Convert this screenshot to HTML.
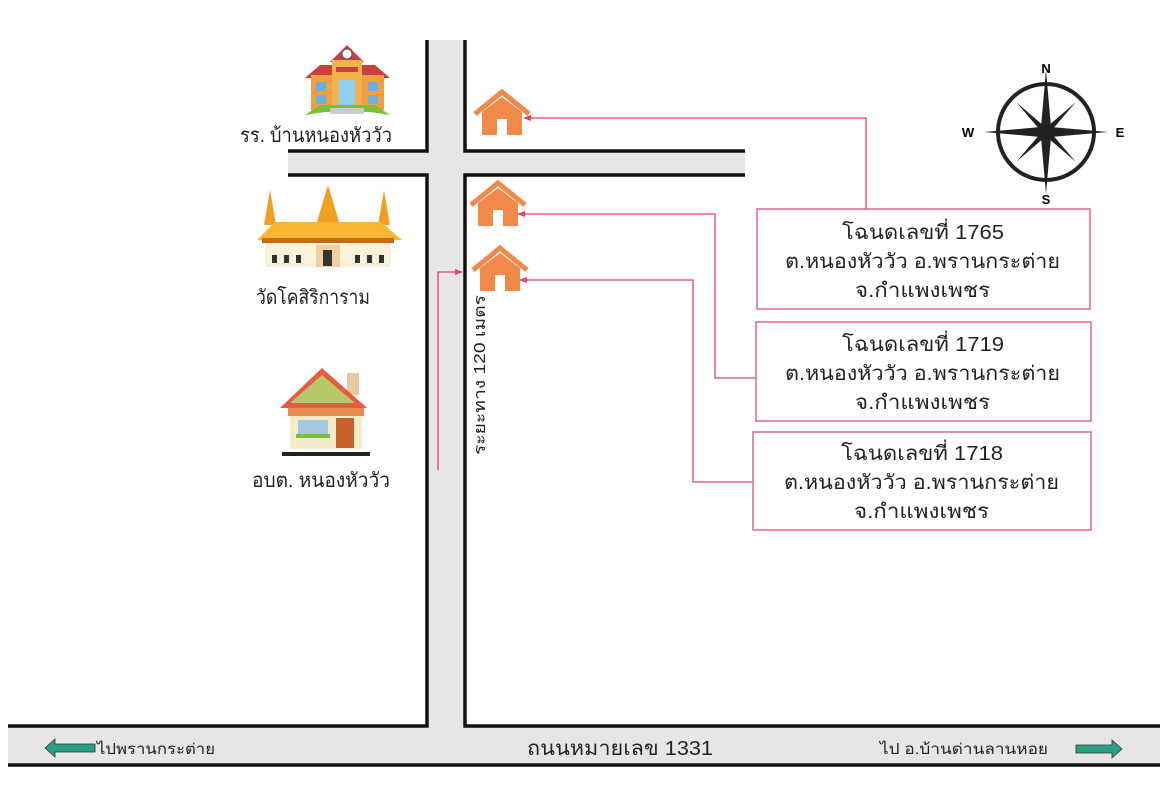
<!DOCTYPE html>
<html><head><meta charset="utf-8"><style>
body{margin:0;background:#fff}
svg{display:block}
text{font-family:"Liberation Sans","Noto Sans CJK SC",sans-serif}
</style></head><body>
<svg width="1165" height="800" viewBox="0 0 1165 800" xmlns="http://www.w3.org/2000/svg">
<defs>
<marker id="ar" markerWidth="8" markerHeight="8" refX="7" refY="4" orient="auto" markerUnits="userSpaceOnUse"><path d="M0,1 L8,4 L0,7 z" fill="#e0406a"/></marker>
<g id="house">
<path d="M0,22 L27,0 L54,22" fill="none" stroke="#f0894a" stroke-width="5"/>
<path d="M7,20 L27,5 L47,20 L47,43 L32,43 L32,27 L22,27 L22,43 L7,43 z" fill="#f0894a"/>
</g>
</defs>
<rect x="428" y="40" width="37" height="725" fill="#e6e6e6"/>
<rect x="288" y="151" width="457" height="24" fill="#e6e6e6"/>
<rect x="8" y="726" width="1152" height="39" fill="#e6e6e6"/>
<g stroke="#111" stroke-width="3.5" fill="none">
<path d="M427,40 V151 H288"/>
<path d="M288,175 H427 V726 H8"/>
<path d="M465,40 V151 H745"/>
<path d="M745,175 H465 V726 H1160"/>
<path d="M8,765 H1160"/>
</g>
<use href="#house" x="475" y="92"/>
<use href="#house" x="471" y="183"/>
<use href="#house" x="473" y="248"/>
<g stroke="#e0406a" stroke-width="1.3" fill="none">
<path d="M866,209 V118 H524" marker-end="url(#ar)"/>
<path d="M756,378 H715 V214 H518" marker-end="url(#ar)"/>
<path d="M753,482 H693 V280 H520" marker-end="url(#ar)"/>
<path d="M438,470 V272 H462" marker-end="url(#ar)"/>
</g>
<g fill="#fff" stroke="#e0668a" stroke-width="1.5">
<rect x="757" y="209" width="333" height="100"/>
<rect x="756" y="322" width="335" height="99"/>
<rect x="753" y="432" width="338" height="98"/>
</g>
<g font-size="20" fill="#222">
<text x="842" y="239" textLength="162" lengthAdjust="spacingAndGlyphs">โฉนดเลขที่ 1765</text>
<text x="785" y="268" textLength="275" lengthAdjust="spacingAndGlyphs">ต.หนองหัววัว อ.พรานกระต่าย</text>
<text x="855" y="297" textLength="135" lengthAdjust="spacingAndGlyphs">จ.กำแพงเพชร</text>
<text x="842" y="351" textLength="162" lengthAdjust="spacingAndGlyphs">โฉนดเลขที่ 1719</text>
<text x="785" y="380" textLength="275" lengthAdjust="spacingAndGlyphs">ต.หนองหัววัว อ.พรานกระต่าย</text>
<text x="855" y="409" textLength="135" lengthAdjust="spacingAndGlyphs">จ.กำแพงเพชร</text>
<text x="841" y="460" textLength="162" lengthAdjust="spacingAndGlyphs">โฉนดเลขที่ 1718</text>
<text x="784" y="489" textLength="275" lengthAdjust="spacingAndGlyphs">ต.หนองหัววัว อ.พรานกระต่าย</text>
<text x="854" y="518" textLength="135" lengthAdjust="spacingAndGlyphs">จ.กำแพงเพชร</text>
</g>
<g transform="translate(1046,132)">
<circle r="48" fill="none" stroke="#222" stroke-width="4"/>
<path d="M0,-62 L5,-5 L62,0 L5,5 L0,62 L-5,5 L-62,0 L-5,-5 z" fill="#222"/>
<g transform="rotate(45)"><path d="M0,-42 L3,-3 L42,0 L3,3 L0,42 L-3,3 L-42,0 L-3,-3 z" fill="#222"/></g>
<text x="0" y="-59" font-size="13" font-weight="bold" text-anchor="middle">N</text>
<text x="0" y="72" font-size="13" font-weight="bold" text-anchor="middle">S</text>
<text x="-78" y="5" font-size="13" font-weight="bold" text-anchor="middle">W</text>
<text x="74" y="5" font-size="13" font-weight="bold" text-anchor="middle">E</text>
</g>
<g>
<path d="M305,78 L320,65 L375,65 L390,78 z" fill="#c84040"/>
<rect x="311" y="75" width="73" height="35" fill="#f0a040"/>
<path d="M330,62 L347,45 L364,62 z" fill="#c84040"/>
<rect x="332" y="60" width="30" height="50" fill="#f4b24a"/>
<circle cx="347" cy="54" r="5" fill="#fff" stroke="#555"/>
<rect x="336" y="67" width="22" height="5" fill="#c84040"/>
<rect x="339" y="80" width="16" height="28" fill="#8fd0f0"/>
<rect x="316" y="82" width="10" height="9" fill="#6ab0e0"/><rect x="316" y="95" width="10" height="9" fill="#6ab0e0"/>
<rect x="368" y="82" width="10" height="9" fill="#6ab0e0"/><rect x="368" y="95" width="10" height="9" fill="#6ab0e0"/>
<path d="M305,115 L320,105 L375,105 L390,115 L370,112 L325,112 z" fill="#7cbf3a"/>
<rect x="330" y="108" width="34" height="6" fill="#ccc"/>
</g>
<text x="240" y="142" font-size="20" fill="#222" textLength="152" lengthAdjust="spacingAndGlyphs">รร. บ้านหนองหัววัว</text>
<g>
<path d="M328,185 L342,232 L314,232 z" fill="#f0a020"/>
<path d="M270,190 L276,225 L264,225 z" fill="#f0a020"/>
<path d="M384,190 L390,225 L378,225 z" fill="#f0a020"/>
<path d="M257,240 L275,222 L381,222 L402,240 z" fill="#f6b830"/>
<rect x="262" y="238" width="132" height="5" fill="#c86a10"/>
<rect x="265" y="243" width="126" height="24" fill="#fbf2dc"/>
<rect x="316" y="245" width="24" height="22" fill="#f0d0a0"/>
<rect x="323" y="250" width="9" height="16" fill="#333"/>
<g fill="#333"><rect x="272" y="255" width="5" height="8"/><rect x="284" y="255" width="5" height="8"/><rect x="296" y="255" width="5" height="8"/><rect x="355" y="255" width="5" height="8"/><rect x="367" y="255" width="5" height="8"/><rect x="379" y="255" width="5" height="8"/></g>
</g>
<text x="256" y="304" font-size="20" fill="#222" textLength="114" lengthAdjust="spacingAndGlyphs">วัดโคสิริการาม</text>
<g>
<rect x="347" y="373" width="12" height="22" fill="#e8c8a0"/>
<path d="M280,408 L322,368 L367,408 z" fill="#e85a40"/>
<path d="M290,403 L322,375 L355,403 z" fill="#b5c96a"/>
<rect x="288" y="408" width="76" height="8" fill="#e88a50"/>
<rect x="290" y="416" width="72" height="33" fill="#f4ecc8"/>
<rect x="336" y="418" width="18" height="30" fill="#c8602a"/>
<rect x="298" y="420" width="30" height="14" fill="#a8c8e0"/>
<rect x="296" y="434" width="34" height="4" fill="#7cbf3a"/>
<rect x="282" y="452" width="88" height="4" fill="#222"/>
</g>
<text x="252" y="487" font-size="20" fill="#222" textLength="138" lengthAdjust="spacingAndGlyphs">อบต. หนองหัววัว</text>
<text transform="translate(485,455) rotate(-90)" font-size="16" fill="#222" textLength="160" lengthAdjust="spacingAndGlyphs">ระยะทาง 120 เมตร</text>
<path d="M45,748 L55,739 L55,744 L95,744 L95,752 L55,752 L55,757 z" fill="#2aa080" stroke="#333" stroke-width="0.8"/>
<text x="97" y="754" font-size="15" fill="#222" textLength="118" lengthAdjust="spacingAndGlyphs">ไปพรานกระต่าย</text>
<text x="527" y="755" font-size="20" fill="#222" textLength="186" lengthAdjust="spacingAndGlyphs">ถนนหมายเลข 1331</text>
<text x="880" y="754" font-size="15" fill="#222" textLength="168" lengthAdjust="spacingAndGlyphs">ไป อ.บ้านด่านลานหอย</text>
<path d="M1122,749 L1112,740 L1112,745 L1076,745 L1076,753 L1112,753 L1112,758 z" fill="#2aa080" stroke="#333" stroke-width="0.8"/>
</svg>
</body></html>
